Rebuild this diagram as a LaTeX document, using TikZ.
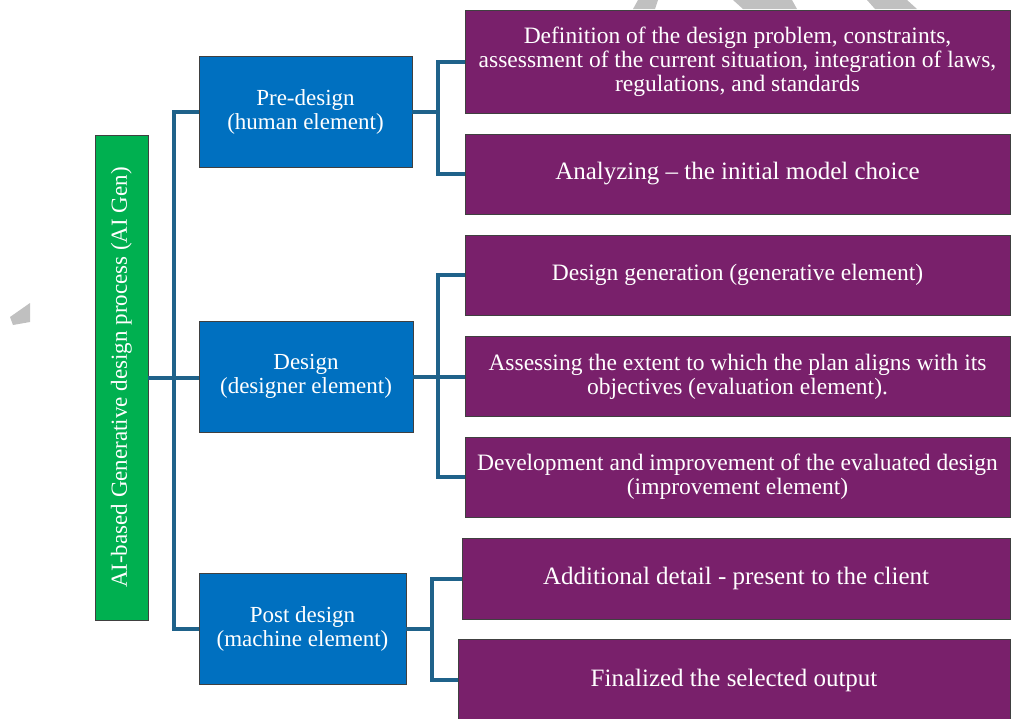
\documentclass[tikz,border=0pt]{standalone}
\usepackage{fontspec}
\setmainfont{Liberation Serif}
\definecolor{gbox}{HTML}{00B050}
\definecolor{bbox}{HTML}{0070C0}
\definecolor{pbox}{HTML}{79206B}
\definecolor{conn}{HTML}{1F628A}
\definecolor{wm}{HTML}{C0C0C0}
\tikzset{
  box/.style={draw=black!75, line width=0.8pt, inner sep=0pt, text=white, align=center,
    font=\fontsize{23}{24}\selectfont},
  greenbox/.style={box, fill=gbox},
  bluebox/.style={box, fill=bbox},
  purplebox/.style={box, fill=pbox, font=\fontsize{23.5}{24}\selectfont},
  bigtext/.style={font=\fontsize{25}{26}\selectfont},
  link/.style={draw=conn, line width=4pt},
}
\begin{document}
\begin{tikzpicture}[x=1pt,y=-1pt]
\useasboundingbox (0,0) rectangle (1011,718);
% faint watermark fragments
\fill[wm] (10,317) -- (30,303) -- (30,322) -- (13,325) -- cycle;
\fill[wm] (638,0) -- (658,0) -- (655,9) -- (633,9) -- cycle;
\fill[wm] (733,0) -- (792,0) -- (797,9) -- (743,9) -- cycle;
\fill[wm] (867,0) -- (907,0) -- (917,9) -- (875,9) -- cycle;

% connector bus positions
\coordinate (t0) at (174,0);
\coordinate (t1) at (438,0);
\coordinate (t2) at (438,0);
\coordinate (t3) at (432,0);

% nodes
\node[greenbox, minimum width=53pt, minimum height=485pt] (gen) at (121.5,377.5)
  {\rotatebox{90}{AI-based Generative design process (AI Gen)}};
\node[bluebox, minimum width=213pt, minimum height=111pt] (pre) at (305.5,111.5)
  {Pre-design\\(human element)};
\node[bluebox, minimum width=214pt, minimum height=111pt] (des) at (306,376.5)
  {Design\\(designer element)};
\node[bluebox, minimum width=207pt, minimum height=111pt] (post) at (302.5,628.5)
  {Post design\\(machine element)};

\node[purplebox, minimum width=545pt, minimum height=103pt] (p1) at (737.5,61.5)
  {Definition of the design problem, constraints,\\assessment of the current situation, integration of laws,\\regulations, and standards};
\node[purplebox, bigtext, minimum width=545pt, minimum height=80pt] (p2) at (737.5,174)
  {Analyzing -- the initial model choice};
\node[purplebox, minimum width=545pt, minimum height=80pt] (p3) at (737.5,275)
  {Design generation (generative element)};
\node[purplebox, minimum width=545pt, minimum height=80pt] (p4) at (737.5,376.5)
  {Assessing the extent to which the plan aligns with its\\objectives (evaluation element).};
\node[purplebox, minimum width=545pt, minimum height=80pt] (p5) at (737.5,477)
  {Development and improvement of the evaluated design\\(improvement element)};
\node[purplebox, bigtext, minimum width=548pt, minimum height=81pt] (p6) at (736,578.5)
  {Additional detail - present to the client};
\node[purplebox, bigtext, minimum width=552pt, minimum height=82pt] (p7) at (734,680)
  {Finalized the selected output};

% trunk
\draw[link] (gen.east) -- (gen.east -| des.west);
\draw[link] (pre.west) -- (pre.west -| t0) -- (post.west -| t0) -- (post.west);
% pre-design
\draw[link] (pre.east) -- (pre.east -| t1);
\draw[link] (p1.west) -- (p1.west -| t1) -- (p2.west -| t1) -- (p2.west);
% design
\draw[link] (des.east) -- (des.east -| p4.west);
\draw[link] (p3.west) -- (p3.west -| t2) -- (p5.west -| t2) -- (p5.west);
% post design
\draw[link] (post.east) -- (post.east -| t3);
\draw[link] (p6.west) -- (p6.west -| t3) -- (p7.west -| t3) -- (p7.west);
\end{tikzpicture}
\end{document}
